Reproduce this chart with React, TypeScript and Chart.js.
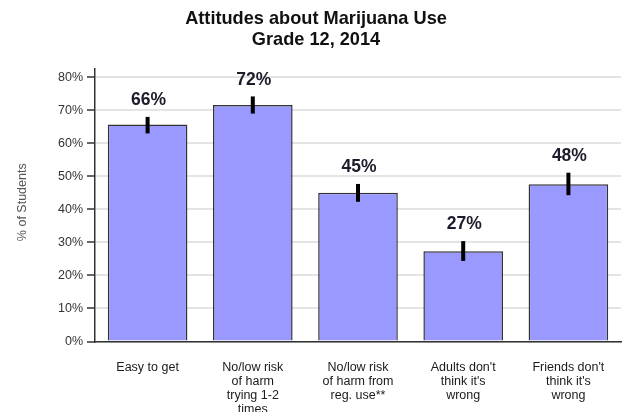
import React, { useEffect, useRef } from "react";
import { Chart, registerables } from "chart.js";

Chart.register(...registerables);

const titleLines = ["Attitudes about Marijuana Use", "Grade 12, 2014"];
const yAxisTitle = "% of Students";
const categories: string[][] = [
  ["Easy to get"],
  ["No/low risk", "of harm", "trying 1-2", "times"],
  ["No/low risk", "of harm from", "reg. use**"],
  ["Adults don't", "think it's", "wrong"],
  ["Friends don't", "think it's", "wrong"],
];
const values = [65.7, 71.6, 45.0, 27.3, 47.6];
const lows = [63.0, 69.0, 42.3, 24.4, 44.3];
const highs = [68.0, 74.2, 47.7, 30.4, 51.1];
const yTickValues = [0, 10, 20, 30, 40, 50, 60, 70, 80];

const FONT = '"Liberation Sans", Arial, sans-serif';

export default function App() {
  const ref = useRef<HTMLCanvasElement | null>(null);

  useEffect(() => {
    document.body.style.margin = "0";
    const canvas = ref.current;
    if (!canvas) return;

    const overlay = {
      id: "overlay",
      afterDatasetsDraw(chart: any) {
        const ctx = chart.ctx;
        const yScale = chart.scales.y;
        const meta = chart.getDatasetMeta(0);
        ctx.save();
        // error bars
        ctx.strokeStyle = "#000";
        ctx.lineWidth = 4;
        meta.data.forEach((bar: any, i: number) => {
          const yl = yScale.getPixelForValue(lows[i]);
          const yh = yScale.getPixelForValue(highs[i]);
          ctx.beginPath();
          ctx.moveTo(bar.x, yl);
          ctx.lineTo(bar.x, yh);
          ctx.stroke();
        });
        // value labels
        ctx.fillStyle = "#1c1c2c";
        ctx.font = `bold 17.5px ${FONT}`;
        ctx.textAlign = "center";
        ctx.textBaseline = "middle";
        meta.data.forEach((bar: any, i: number) => {
          const yh = yScale.getPixelForValue(highs[i]);
          ctx.fillText(Math.round(values[i]) + "%", bar.x + 1, yh - 16.5);
        });
        ctx.restore();
      },
      afterDraw(chart: any) {
        const ctx = chart.ctx;
        ctx.save();
        ctx.fillStyle = "#111";
        ctx.font = `bold 18.2px ${FONT}`;
        ctx.textAlign = "center";
        ctx.textBaseline = "middle";
        titleLines.forEach((t, i) => {
          ctx.fillText(t, chart.width / 2 + 3.5, 19 + i * 21);
        });
        // y axis title
        const ca = chart.chartArea;
        ctx.translate(23, (ca.top + ca.bottom) / 2 - 3);
        ctx.rotate(-Math.PI / 2);
        ctx.fillStyle = "#555";
        ctx.font = `12.5px ${FONT}`;
        ctx.fillText(yAxisTitle, 0, 0);
        ctx.restore();
      },
    };

    const chart = new Chart(canvas, {
      type: "bar",
      data: {
        labels: categories,
        datasets: [
          {
            data: values,
            backgroundColor: "#9999ff",
            borderColor: "#333",
            borderWidth: 1.5,
            categoryPercentage: 1,
            barPercentage: 0.757,
          },
        ],
      },
      options: {
        animation: false,
        responsive: true,
        maintainAspectRatio: false,
        layout: { padding: { top: 69, right: 4, left: 0, bottom: 0 } },
        plugins: {
          legend: { display: false },
          tooltip: { enabled: false },
          title: { display: false },
        },
        scales: {
          x: {
            grid: { display: true, drawOnChartArea: false, drawTicks: false },
            border: { color: "#333", width: 1.5 },
            ticks: {
              color: "#1a1a1a",
              font: { family: FONT, size: 12.5, lineHeight: 1.12 },
              padding: 19.5,
              maxRotation: 0,
              autoSkip: false,
            },
            afterFit(scale: any) {
              scale.height = 70.5;
            },
          },
          y: {
            min: 0,
            max: 82.5,
            afterBuildTicks(scale: any) {
              scale.ticks = yTickValues.map((v) => ({ value: v }));
            },
            ticks: {
              color: "#333",
              font: { family: FONT, size: 12.5 },
              padding: 4,
              callback: (v: any) => v + "%",
            },
            grid: {
              color: "#e4e4e4",
              lineWidth: 2,
              tickColor: "#333",
              tickLength: 8,
              tickWidth: 1.5,
            },
            border: { color: "#333", width: 1.5 },
            afterFit(scale: any) {
              scale.width = 95;
            },
          },
        },
      },
      plugins: [overlay],
    });

    return () => chart.destroy();
  }, []);

  return (
    <div style={{ width: 625, height: 412, position: "relative" }}>
      <canvas ref={ref} />
    </div>
  );
}
